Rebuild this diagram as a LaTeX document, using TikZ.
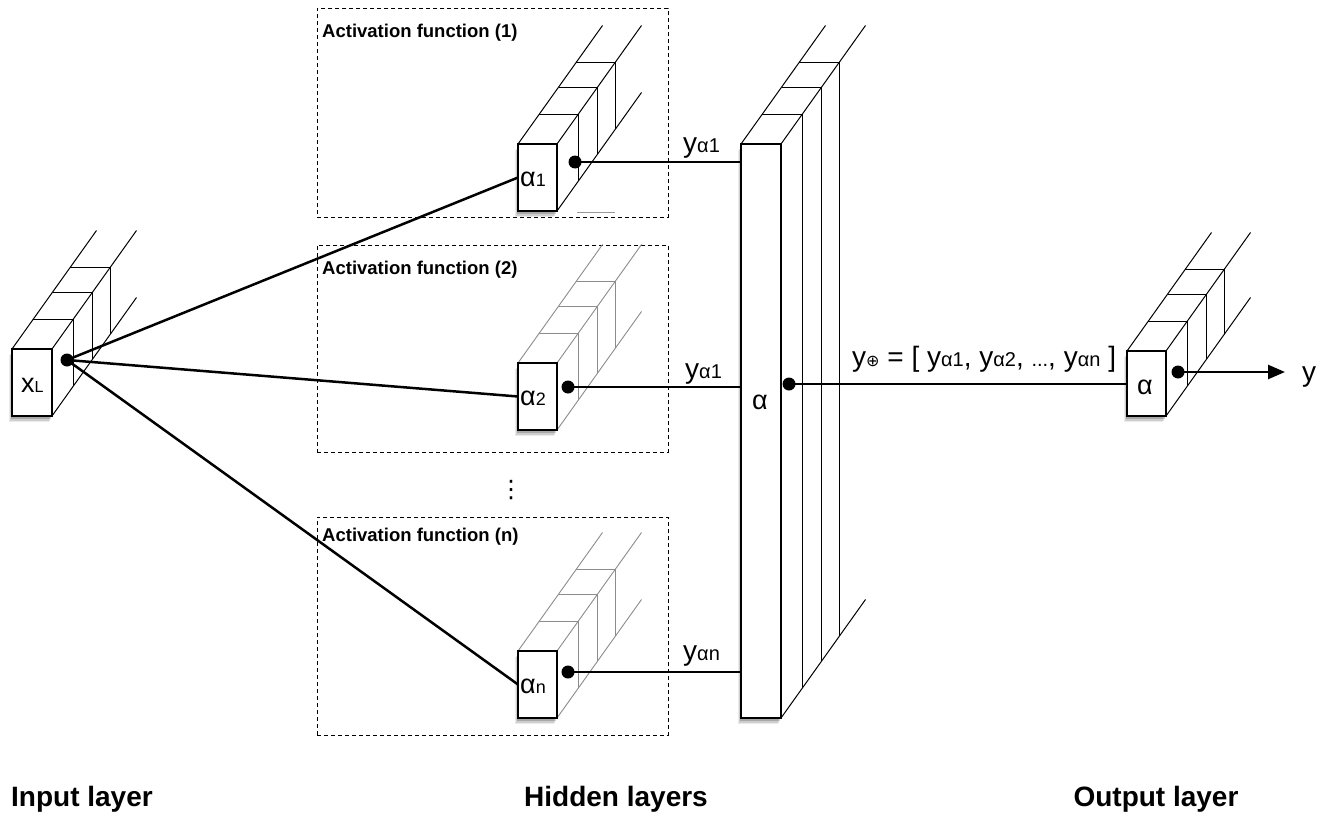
\documentclass[tikz,border=0pt]{standalone}
\usepackage{fontspec}
\setmainfont{Liberation Sans}
\newfontfamily\dejavu{DejaVu Sans}
\usetikzlibrary{shadows,arrows.meta,calc}
\newcommand\szbig{\fontsize{28}{30}\selectfont}
\newcommand\szalpha{\fontsize{27}{28}\selectfont}
\newcommand\szsub{\fontsize{20}{22}\selectfont}
\newcommand\szsml{\fontsize{16}{18}\selectfont}
% #1 x0, #2 y0, #3 x1, #4 y1, #5 line style
\newcommand\mystack[5]{%
  \draw[#5] (#1,#2) -- ++(84.5,-118.5);
  \draw[#5] (#3,#2) -- ++(84.5,-118.5);
  \draw[#5] (#3,#4) -- ++(84.5,-118.5);
  \foreach \f in {0.25,0.48,0.69} {
    \draw[#5] ($(#1,#2)+\f*(84.5,-118.5)$) -- ($(#3,#2)+\f*(84.5,-118.5)$) -- ($(#3,#4)+\f*(84.5,-118.5)$);
  }%
}
\begin{document}
\begin{tikzpicture}[x=1pt,y=-1pt,
  edge/.style={line width=1pt,black},
  grayedge/.style={line width=0.9pt,black!45},
  frontbox/.style={draw,line width=1.3pt,fill=white,inner sep=0pt,outer sep=0pt,anchor=north west,
    drop shadow={shadow xshift=-3pt,shadow yshift=-6pt,opacity=0.08,fill=black},
    drop shadow={shadow xshift=-2.5pt,shadow yshift=-4.5pt,opacity=0.12,fill=black},
    drop shadow={shadow xshift=-1.5pt,shadow yshift=-3pt,opacity=0.18,fill=black}},
  conn/.style={line width=2.5pt,black},
  dot/.style={circle,fill=black,inner sep=0pt,minimum size=13pt},
  dashbox/.style={draw,line width=0.9pt,dash pattern=on 4pt off 3pt,anchor=north west,inner sep=0pt},
  actlbl/.style={font=\bfseries\fontsize{18.5}{20}\selectfont,anchor=west,inner sep=0pt},
  layerlbl/.style={font=\bfseries\fontsize{28}{30}\selectfont,anchor=base,inner sep=0pt},
  txt/.style={inner sep=0pt,anchor=base west}
]
\useasboundingbox[fill=white] (0,0) rectangle (1327,816);

% dashed activation boxes
\node[dashbox,minimum width=351pt,minimum height=209pt] (af1) at (317,8) {};
\node[dashbox,minimum width=351pt,minimum height=207pt] (af2) at (317,245) {};
\node[dashbox,minimum width=351pt,minimum height=218pt] (afn) at (317,517) {};
\node[actlbl] (t1) at (322,33) {Activation function (1)};
\node[actlbl] (t2) at (322,270) {Activation function (2)};
\node[actlbl] (tn) at (322,537) {Activation function (n)};

% stacks
\mystack{12}{349}{52}{416}{edge}
\node[frontbox,minimum width=40pt,minimum height=67pt] (xin) at (12,349) {};
\node[txt] (xinl) at (21,392) {\fontsize{27}{28}\selectfont x\fontsize{16}{17}\selectfont L};

\mystack{518}{144}{557}{211}{edge}
\node[frontbox,minimum width=39pt,minimum height=67pt] (a1) at (518,144) {};
\node[txt] (a1l) at (520,186) {\szalpha α\fontsize{18}{19}\selectfont 1};

\mystack{518}{363}{557}{430}{grayedge}
\node[frontbox,minimum width=39pt,minimum height=67pt] (a2) at (518,363) {};
\node[txt] (a2l) at (520,405) {\szalpha α\fontsize{18}{19}\selectfont 2};

\mystack{518}{651}{557}{718}{grayedge}
\node[frontbox,minimum width=39pt,minimum height=67pt] (an) at (518,651) {};
\node[txt] (anl) at (520,693) {\szalpha α\fontsize{18}{19}\selectfont n};

\mystack{741}{144}{781}{718}{edge}
\node[frontbox,minimum width=40pt,minimum height=574pt] (big) at (741,144) {};
\node[txt] (bigl) at (752,409) {\szalpha α};

\mystack{1127}{351}{1166}{416}{edge}
\node[frontbox,minimum width=39pt,minimum height=65pt] (out) at (1127,351) {};
\node[txt] (outl) at (1137,394) {\szalpha α};

\draw[line width=0.8pt,black!40] (577,212) -- (615,212);

% dots
\node[dot] (din) at (67,360) {};
\node[dot] (d1) at (575,162) {};
\node[dot] (d2) at (568,387) {};
\node[dot] (dn) at (568,672) {};
\node[dot] (dbig) at (789,384) {};
\node[dot] (dout) at (1178,372) {};

% connectors
\draw[conn] (din.center) -- (a1.west);
\draw[conn] (din.center) -- (a2.west);
\draw[conn] (din.center) -- (an.west);
\draw[conn] (d1.center) -- (d1.center -| big.west);
\draw[conn] (d2.center) -- (d2.center -| big.west);
\draw[conn] (dn.center) -- (dn.center -| big.west);
\draw[conn] (dbig.center) -- (dbig.center -| out.west);
\coordinate (yend) at (1285,372);
\draw[conn,-{Triangle[length=17pt,width=14pt]}] (dout.center) -- (yend);

% labels
\node[txt] (ly1) at (683,152) {\szbig y\szsub α1};
\node[txt] (ly2) at (685,378) {\szbig y\szsub α1};
\node[txt] (lyn) at (683,660) {\szbig y\szsub αn};
\node[txt] (lsum) at (852,366) {\szbig y{\dejavu\szsml ⊕} = [ y\szsub α1\szbig, y\szsub α2\szbig, \szsub ...\szbig, y\szsub αn\szbig{} ]};
\node[txt] (ly) at (1302,381) {\fontsize{28}{29}\selectfont y};
\node[font={\dejavu\fontsize{24}{26}\selectfont},inner sep=0pt] (vd) at (511,490) {⋮};

\node[layerlbl] (il) at (82,806) {Input layer};
\node[layerlbl] (hl) at (616,806) {Hidden layers};
\node[layerlbl] (ol) at (1156,806) {Output layer};
\end{tikzpicture}
\end{document}
